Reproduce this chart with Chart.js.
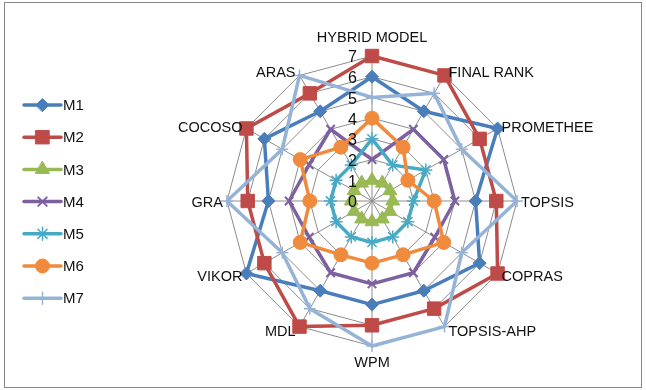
<!DOCTYPE html>
<html>
<head>
<meta charset="utf-8">
<script src="https://cdn.jsdelivr.net/npm/chart.js@4/dist/chart.umd.min.js"></script>
<style>
html,body{margin:0;padding:0;background:#fff;}
canvas{display:block;}
</style>
</head>
<body>
<canvas id="c" width="646" height="390"></canvas>
<script>
// Methods compared on each axis
const categories = ['HYBRID MODEL','FINAL RANK','PROMETHEE','TOPSIS','COPRAS','TOPSIS-AHP','WPM','MDL','VIKOR','GRA','COCOSO','ARAS'];
const seriesNames = ['M1','M2','M3','M4','M5','M6','M7'];

// Scores of each series, in category order
const m1 = [6,5,7,5,6,5,5,5,7,5,6,5];
const m2 = [7,7,6,6,7,6,6,7,6,6,7,6];
const m3 = [1,1,1,1,1,1,1,1,1,1,1,1];
const m4 = [2,4,4,4,3.5,4,4,4,3.5,4,3.5,4];
const m5 = [3,2,3,2,2,2,2,2,2,2,2,2];
const m6 = [4,3,2,3,4,3,3,3,4,3,4,3];
const m7 = [5,6,5,7,5,7,7,6,5,7,5,7];
const seriesValues = [m1,m2,m3,m4,m5,m6,m7];

const tickLabels = ['0','1','2','3','4','5','6','7'];

const colors = ['#4a7ebb','#be4b48','#98b954','#7d60a0','#46aac5','#f08a3c','#95b3d7'];
const markers = ['rectRot','rect','triangle','crossRot','star','circle','cross'];
const markerSizes = [6.5, 9.5, 8, 6, 6.5, 7, 6];
const markerBorders = [1, 1, 1, 2, 1.5, 1, 1.5];

const FONT = '"Liberation Sans", Arial, sans-serif';

function drawMarker(ctx, i, x, y) {
  ctx.fillStyle = colors[i];
  ctx.strokeStyle = colors[i];
  ctx.lineWidth = markerBorders[i];
  Chart.helpers.drawPoint(ctx, {pointStyle: markers[i], radius: markerSizes[i], rotation: 0, borderWidth: markerBorders[i]}, x, y);
}

const decor = {
  id: 'decor',
  afterDraw(chart) {
    const ctx = chart.ctx;
    const r = chart.scales.r;
    ctx.save();

    // outer frame
    ctx.strokeStyle = '#868686';
    ctx.lineWidth = 1;
    ctx.strokeRect(4.5, 2.5, 637, 385);

    // value labels along the vertical axis
    ctx.font = '16px ' + FONT;
    ctx.fillStyle = '#111';
    ctx.textAlign = 'right';
    ctx.textBaseline = 'middle';
    r.ticks.forEach((t, k) => {
      const d = r.getDistanceFromCenterForValue(t.value);
      ctx.fillText(tickLabels[k], r.xCenter - 15, r.yCenter - d + 2);
    });

    // category labels around the web
    ctx.font = '14.5px ' + FONT;
    categories.forEach((lab, i) => {
      const p = r.getPointPosition(i, r.drawingArea);
      const a = r.getIndexAngle(i);
      const s = Math.sin(a), c = Math.cos(a);
      let x = p.x, y = p.y;
      if (Math.abs(s) < 0.01) {
        ctx.textAlign = 'center';
        y = c > 0 ? p.y - 18 : p.y + 17;
      } else {
        ctx.textAlign = s > 0 ? 'left' : 'right';
        x = p.x + (s > 0 ? 4 : -4);
        y = p.y - 4 * c + 1.5;
      }
      ctx.fillText(lab, x, y);
    });

    // legend: line with marker
    ctx.font = '15px ' + FONT;
    ctx.textAlign = 'left';
    seriesNames.forEach((name, i) => {
      const y = 105 + i * 32.2;
      ctx.strokeStyle = colors[i];
      ctx.lineWidth = 3.5;
      ctx.lineCap = 'round';
      ctx.beginPath();
      ctx.moveTo(24, y);
      ctx.lineTo(61, y);
      ctx.stroke();
      drawMarker(ctx, i, 42.5, y);
      ctx.fillStyle = '#111';
      ctx.fillText(name, 63, y + 1);
    });
    ctx.restore();
  }
};

new Chart(document.getElementById('c'), {
  type: 'radar',
  data: {
    labels: categories,
    datasets: seriesValues.map((vals, i) => ({
      label: seriesNames[i],
      data: vals,
      borderColor: colors[i],
      backgroundColor: colors[i],
      borderWidth: 3.5,
      borderJoinStyle: 'round',
      fill: false,
      pointStyle: markers[i],
      pointRadius: markerSizes[i],
      pointHoverRadius: markerSizes[i],
      pointBorderWidth: markerBorders[i],
      pointBackgroundColor: colors[i],
      pointBorderColor: colors[i],
      order: 6 - i
    }))
  },
  options: {
    responsive: false,
    animation: false,
    devicePixelRatio: 1,
    layout: {padding: {left: 227, right: 129, top: 56, bottom: 44}},
    plugins: {legend: {display: false}, tooltip: {enabled: false}},
    scales: {
      r: {
        min: 0,
        max: 7,
        ticks: {stepSize: 1, display: false},
        grid: {color: '#8c8c8c', lineWidth: 1},
        angleLines: {color: '#8c8c8c', lineWidth: 1},
        pointLabels: {display: false}
      }
    }
  },
  plugins: [decor]
});
</script>
</body>
</html>
